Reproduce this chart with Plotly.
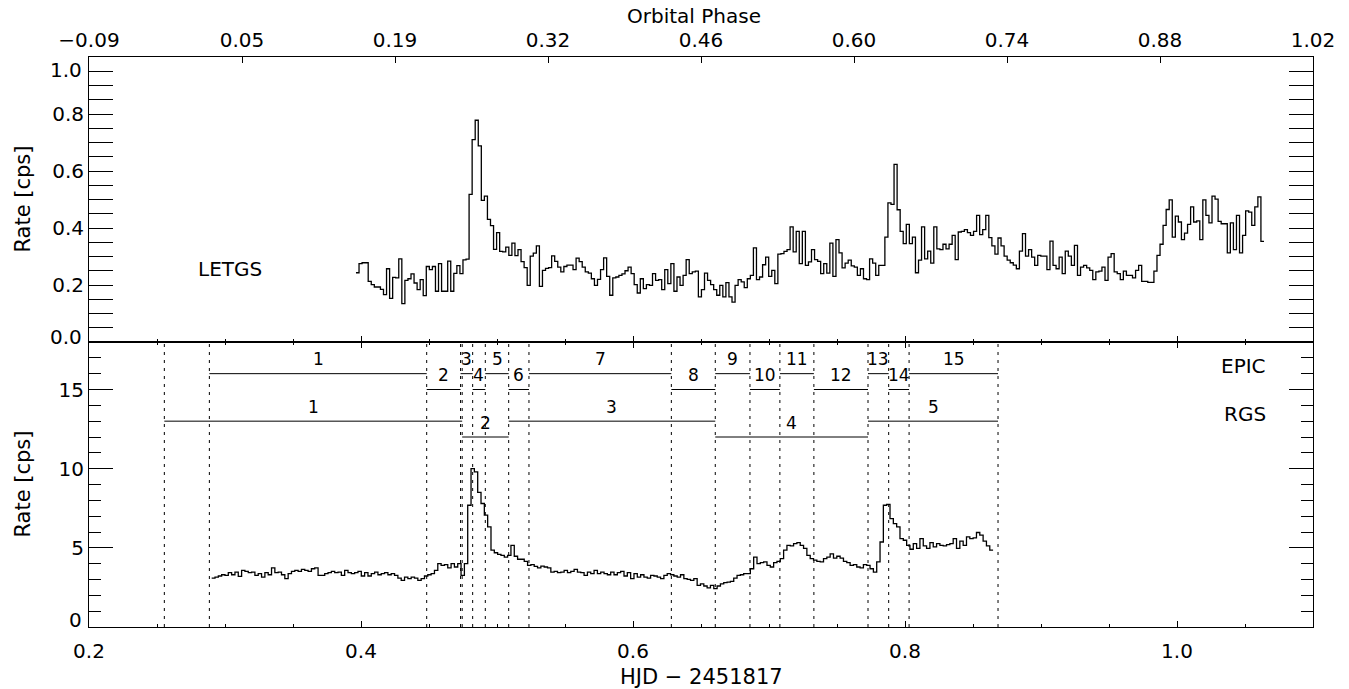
import numpy as np
import plotly.graph_objects as go

# ---------------- data ----------------
# LETGS light curve (top panel), uniform time bins (HJD - 2451817)
LETGS_T0 = 0.3963
LETGS_DT = 0.002248
LETGS_RATE = [
    0.243, 0.275, 0.278, 0.278, 0.213, 0.201, 0.193, 0.193, 0.185, 0.166,
    0.257, 0.153, 0.227, 0.225, 0.292, 0.135, 0.216, 0.222, 0.239, 0.207,
    0.184, 0.219, 0.163, 0.265, 0.254, 0.265, 0.178, 0.275, 0.178, 0.178,
    0.284, 0.178, 0.241, 0.268, 0.240, 0.288, 0.291, 0.518, 0.710, 0.778,
    0.688, 0.497, 0.512, 0.430, 0.408, 0.325, 0.384, 0.318, 0.316, 0.333,
    0.304, 0.347, 0.303, 0.324, 0.282, 0.261, 0.199, 0.301, 0.312, 0.337,
    0.195, 0.251, 0.258, 0.261, 0.302, 0.283, 0.263, 0.246, 0.265, 0.270,
    0.270, 0.254, 0.294, 0.282, 0.263, 0.246, 0.242, 0.222, 0.199, 0.220,
    0.254, 0.295, 0.230, 0.164, 0.225, 0.228, 0.234, 0.239, 0.250, 0.263,
    0.240, 0.201, 0.172, 0.222, 0.187, 0.201,
    0.199, 0.240, 0.216, 0.219, 0.184, 0.254, 0.205, 0.275, 0.178, 0.228,
    0.199, 0.234, 0.289, 0.240, 0.246, 0.249, 0.158, 0.184, 0.242, 0.216,
    0.201, 0.184, 0.164, 0.199, 0.158, 0.208, 0.158, 0.140, 0.199, 0.219,
    0.211, 0.191, 0.222, 0.234, 0.330, 0.219, 0.228, 0.271, 0.298, 0.230,
    0.251, 0.205, 0.308, 0.310, 0.318, 0.324, 0.404, 0.316, 0.388, 0.275,
    0.388, 0.269, 0.281, 0.324, 0.289, 0.283, 0.240, 0.275, 0.242, 0.347,
    0.230, 0.359, 0.313, 0.260, 0.277, 0.287, 0.267, 0.263, 0.234, 0.257,
    0.222, 0.219, 0.292, 0.277, 0.234, 0.269, 0.269, 0.368, 0.488, 0.483,
    0.623, 0.464, 0.388, 0.345, 0.413, 0.345, 0.368, 0.243, 0.287, 0.404,
    0.292, 0.319, 0.277, 0.404, 0.327, 0.324, 0.343, 0.327, 0.343, 0.374,
    0.289, 0.386,
    0.388, 0.394, 0.384, 0.374, 0.388, 0.444, 0.377, 0.394, 0.444, 0.366,
    0.337, 0.308, 0.365, 0.337, 0.301, 0.287, 0.278, 0.270, 0.257, 0.319,
    0.380, 0.301, 0.324, 0.298, 0.269, 0.304, 0.301, 0.301, 0.254, 0.354,
    0.269, 0.257, 0.298, 0.240, 0.319, 0.301, 0.269, 0.339, 0.234, 0.263,
    0.269, 0.260, 0.251, 0.219, 0.246, 0.249, 0.263, 0.216, 0.298, 0.310,
    0.246, 0.240, 0.219, 0.249, 0.234, 0.234, 0.225, 0.251, 0.269, 0.213,
    0.213, 0.209, 0.209, 0.249, 0.304, 0.343, 0.409, 0.465, 0.499, 0.368,
    0.442, 0.421, 0.359, 0.382, 0.413, 0.474, 0.421, 0.425, 0.359, 0.499,
    0.444, 0.418, 0.512, 0.501, 0.423, 0.415, 0.415, 0.313, 0.418, 0.324,
    0.444, 0.313, 0.374, 0.460, 0.456, 0.409, 0.474, 0.509, 0.353,
]

# EPIC light curve (bottom panel)
EPIC_T0 = 0.2902
EPIC_DT = 0.002445
EPIC_RATE = [
    3.09, 3.15, 3.22, 3.30, 3.26, 3.43, 3.30, 3.47, 3.20, 3.58,
    3.51, 3.43, 3.47, 3.26, 3.37, 3.15, 3.43, 3.30, 3.73, 3.43,
    3.47, 3.30, 3.05, 3.37, 3.51, 3.58, 3.51, 3.64, 3.58, 3.51,
    3.68, 3.73, 3.26, 3.26, 3.37, 3.43, 3.51, 3.43, 3.47, 3.26,
    3.58, 3.43, 3.37, 3.43, 3.51, 3.22, 3.43, 3.22, 3.37, 3.47,
    3.30, 3.37, 3.43, 3.30, 3.37, 3.26, 3.09, 2.94, 3.15, 3.05,
    3.15, 3.09, 2.94, 3.05, 3.22, 3.30, 3.37, 3.58, 4.00, 3.89,
    3.94, 3.73, 4.00, 3.79, 4.00, 3.26, 4.00, 7.69, 10.0,
    9.8, 8.5, 7.8, 7.06, 6.32, 4.85, 4.69, 4.59, 4.52, 4.41,
    4.52, 5.16, 4.47, 4.28, 4.28, 4.15, 3.89, 3.94, 3.83, 3.73,
    3.85, 3.79, 3.73, 3.47, 3.51, 3.43, 3.47, 3.58, 3.43, 3.51,
    3.64, 3.47, 3.43, 3.26, 3.47, 3.37, 3.58, 3.37, 3.47, 3.37,
    3.30, 3.47, 3.30, 3.43, 3.51, 3.22, 3.43, 3.05, 3.37, 3.15,
    3.30, 3.15, 3.09, 3.26, 3.22, 3.15, 3.05, 3.26, 3.37, 3.30,
    3.22, 3.15, 3.30, 3.05, 3.01, 2.94, 3.05, 2.63, 2.73, 2.59,
    2.47, 2.63, 2.43, 2.59, 2.73, 2.80, 2.84, 2.88, 3.09, 3.26,
    3.30, 3.37,
    3.37, 3.68, 4.41, 4.00, 4.06, 4.11, 3.89, 3.79, 4.06, 4.15,
    4.32, 4.85, 5.16, 5.12, 5.27, 5.33, 5.16, 4.96, 4.52, 4.32,
    4.22, 4.15, 4.11, 4.32, 4.41, 4.62, 4.35, 4.47, 4.35, 4.15,
    4.06, 3.89, 3.94, 3.79, 3.73, 3.94, 3.89, 3.68, 3.47, 4.11,
    5.37, 7.69, 7.74, 6.85, 6.53, 6.32, 5.58, 5.48, 5.16, 4.91,
    5.27, 4.96, 5.58, 5.12, 4.96, 5.33, 5.06, 5.27, 5.16, 5.12,
    5.20, 5.27, 5.58, 4.96, 5.42, 5.16, 5.69, 5.58, 5.63, 5.97,
    5.80, 5.42, 5.12, 4.85,
]

# time-interval boundaries (HJD - 2451817)
EPIC_BOUNDS = [0.2885, 0.4483, 0.4732, 0.4821, 0.4914, 0.5086, 0.5235, 0.6282,
               0.6605, 0.6860, 0.7080, 0.7330, 0.7728, 0.7880, 0.8030, 0.8684]
RGS_BOUNDS = [0.2554, 0.4744, 0.5086, 0.6605, 0.7728, 0.8684]
EPIC_LEVELS = [16, 15]   # odd / even intervals
RGS_LEVELS = [13, 12]

PHASE_LABELS = ["\u22120.09", "0.05", "0.19", "0.32", "0.46", "0.60", "0.74", "0.88", "1.02"]
PHASE_RANGE = [-0.09, 1.02]
HJD_RANGE = [0.2, 1.1]
TOP_RANGE = [0.0, 1.0]
BOTTOM_RANGE = [0.0, 18.0]
TOP_TICKS = [0.0, 0.2, 0.4, 0.6, 0.8, 1.0]
BOTTOM_TICKS = [0, 5, 10, 15]

# ---------------- figure ----------------
FONT = "DejaVu Sans"
BLACK = "#000000"
TICK_FONT = dict(family=FONT, size=20, color=BLACK)
TITLE_FONT = dict(family=FONT, size=21, color=BLACK)

fig = go.Figure()


def step_xy(t0, dt, rate):
    edges = t0 + np.arange(len(rate) + 1) * dt
    return edges, list(rate) + [rate[-1]]


lx, ly = step_xy(LETGS_T0, LETGS_DT, LETGS_RATE)
fig.add_trace(go.Scatter(x=lx, y=ly, mode="lines", line=dict(color=BLACK, width=1.3, shape="hv"),
                         xaxis="x", yaxis="y", hoverinfo="skip", showlegend=False))

ex, ey = step_xy(EPIC_T0, EPIC_DT, EPIC_RATE)
fig.add_trace(go.Scatter(x=ex, y=ey, mode="lines", line=dict(color=BLACK, width=1.3, shape="hv"),
                         xaxis="x2", yaxis="y2", hoverinfo="skip", showlegend=False))

# invisible trace so that the orbital-phase axis is drawn
fig.add_trace(go.Scatter(x=PHASE_RANGE, y=TOP_RANGE, mode="markers", marker=dict(opacity=0),
                         xaxis="x3", yaxis="y", hoverinfo="skip", showlegend=False))

# dotted vertical lines at all boundaries
vx, vy = [], []
for b in sorted(set(EPIC_BOUNDS + RGS_BOUNDS)):
    vx += [b, b, None]
    vy += [BOTTOM_RANGE[0], BOTTOM_RANGE[1], None]
fig.add_trace(go.Scatter(x=vx, y=vy, mode="lines", line=dict(color=BLACK, width=1, dash="3px,5px"),
                         xaxis="x2", yaxis="y2", hoverinfo="skip", showlegend=False))

annotations = []


def segments(bounds, levels):
    sx, sy = [], []
    for i in range(len(bounds) - 1):
        lev = levels[i % 2]
        sx += [bounds[i], bounds[i + 1], None]
        sy += [lev, lev, None]
        annotations.append(dict(x=(bounds[i] + bounds[i + 1]) / 2, y=lev + 0.9, xref="x2", yref="y2",
                                text=str(i + 1), showarrow=False, xanchor="center", yanchor="middle",
                                font=dict(family=FONT, size=17, color=BLACK)))
    fig.add_trace(go.Scatter(x=sx, y=sy, mode="lines", line=dict(color=BLACK, width=1),
                             xaxis="x2", yaxis="y2", hoverinfo="skip", showlegend=False))


segments(EPIC_BOUNDS, EPIC_LEVELS)
segments(RGS_BOUNDS, RGS_LEVELS)

# edge tick labels are nudged inside the frame (as in the original IDL plot)
LABEL_X = -0.0041   # paper units, just left of the y axis
annotations += [
    dict(x=LABEL_X, y=0.954, xref="paper", yref="y", text="%.1f" % TOP_TICKS[-1], showarrow=False,
         xanchor="right", yanchor="middle", font=TICK_FONT),
    dict(x=LABEL_X, y=0.018, xref="paper", yref="y", text="%.1f" % TOP_TICKS[0], showarrow=False,
         xanchor="right", yanchor="middle", font=TICK_FONT),
    dict(x=LABEL_X, y=0.42, xref="paper", yref="y2", text="%d" % BOTTOM_TICKS[0], showarrow=False,
         xanchor="right", yanchor="middle", font=TICK_FONT),
]

annotations += [
    dict(x=0.304, y=0.256, xref="x", yref="y", text="LETGS", showarrow=False,
         xanchor="center", yanchor="middle", font=dict(family=FONT, size=20, color=BLACK)),
    dict(x=1.067, y=16.5, xref="x2", yref="y2", text="EPIC", showarrow=False,
         xanchor="right", yanchor="middle", font=dict(family=FONT, size=20, color=BLACK)),
    dict(x=1.067, y=13.45, xref="x2", yref="y2", text="RGS", showarrow=False,
         xanchor="right", yanchor="middle", font=dict(family=FONT, size=20, color=BLACK)),
    dict(x=0.494, y=1.0711, xref="paper", yref="paper", text="Orbital Phase", showarrow=False,
         xanchor="center", yanchor="middle", font=dict(family=FONT, size=20, color=BLACK)),
    dict(x=0.5, y=-0.0877, xref="paper", yref="paper", text="HJD \u2212 2451817", showarrow=False,
         xanchor="center", yanchor="middle", font=TITLE_FONT),
    dict(x=-0.0547, y=0.75, xref="paper", yref="paper", text="Rate [cps]", showarrow=False,
         textangle=-90, xanchor="center", yanchor="middle", font=TITLE_FONT),
    dict(x=-0.0547, y=0.25, xref="paper", yref="paper", text="Rate [cps]", showarrow=False,
         textangle=-90, xanchor="center", yanchor="middle", font=TITLE_FONT),
]

axis_common = dict(showgrid=False, zeroline=False, showline=True, linecolor=BLACK, linewidth=1,
                   ticks="inside", tickcolor=BLACK, tickwidth=1, tickfont=TICK_FONT)

fig.update_layout(
    width=1349, height=689,
    margin=dict(l=89, r=36, t=57, b=62, pad=0),
    paper_bgcolor="white", plot_bgcolor="white",
    showlegend=False,
    annotations=annotations,
    xaxis=dict(**axis_common, domain=[0, 1], anchor="y", range=HJD_RANGE, tick0=0.2, dtick=0.2,
               ticklen=6, showticklabels=False, mirror=True,
               minor=dict(dtick=0.05, ticklen=3, ticks="inside", tickcolor=BLACK)),
    xaxis2=dict(**axis_common, domain=[0, 1], anchor="y2", range=HJD_RANGE, tick0=0.2, dtick=0.2,
                ticklen=6, tickformat=".1f", mirror="allticks", ticklabelstandoff=6,
                minor=dict(dtick=0.05, ticklen=3, ticks="inside", tickcolor=BLACK)),
    xaxis3=dict(showgrid=False, zeroline=False, showline=False, overlaying="x", anchor="y", side="top",
                range=PHASE_RANGE, tickmode="array",
                tickvals=list(np.linspace(PHASE_RANGE[0], PHASE_RANGE[1], len(PHASE_LABELS))),
                ticktext=PHASE_LABELS, ticks="inside", ticklen=6, tickcolor=BLACK, tickwidth=1,
                ticklabelstandoff=5, tickfont=TICK_FONT),
    yaxis=dict(**axis_common, domain=[0.5, 1], anchor="x", range=TOP_RANGE, tickmode="array",
               tickvals=TOP_TICKS,
               ticktext=[""] + ["%.1f" % v for v in TOP_TICKS[1:-1]] + [""],
               ticklen=24, mirror="allticks", ticklabelstandoff=0,
               minor=dict(dtick=0.05, ticklen=12, ticks="inside", tickcolor=BLACK)),
    yaxis2=dict(**axis_common, domain=[0, 0.5], anchor="x2", range=BOTTOM_RANGE, tickmode="array",
                tickvals=BOTTOM_TICKS, ticktext=[""] + ["%d" % v for v in BOTTOM_TICKS[1:]],
                ticklen=24, mirror="allticks", ticklabelstandoff=0,
                minor=dict(dtick=1, ticklen=12, ticks="inside", tickcolor=BLACK)),
)

fig.write_html("out.html", config={"displayModeBar": False},
               post_script="document.body.style.margin='0';")
